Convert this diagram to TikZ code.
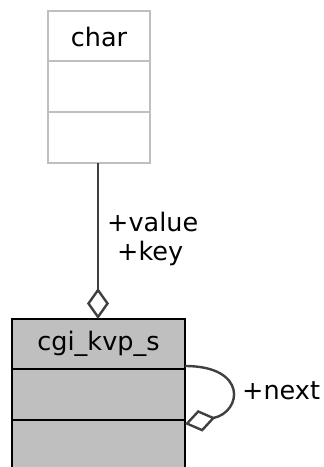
\documentclass[tikz,border=0pt]{standalone}
\usepackage{fontspec}
\setmainfont{DejaVu Sans}
\usetikzlibrary{arrows.meta}
\definecolor{boxgray}{HTML}{BFBFBF}
\definecolor{edgegray}{HTML}{404040}
\tikzset{
  classbox/.style={draw, line width=2.4pt, inner sep=0pt, outer sep=0pt},
  labeltext/.style={font=\fontsize{25.5}{30}\selectfont, inner sep=0pt, text=black},
  assoc/.style={draw=edgegray, line width=2.4pt,
    -{Diamond[open, length=31pt, width=22pt, line width=2.4pt]}},
}
\begin{document}
\begin{tikzpicture}[x=1pt, y=-1pt]
  \useasboundingbox (0,0) rectangle (324,467);
  \clip (0,0) rectangle (324,467);
  % referenced type
  \node[classbox, draw=boxgray, fill=white, minimum width=102pt, minimum height=152pt]
    (char) at (99,87) {};
  \draw[boxgray, line width=2.4pt] (48,61) -- (150,61) (48,112) -- (150,112);
  \node[labeltext] (chartitle) at (99,37) {char};
  % structure
  \node[classbox, draw=black, fill=boxgray, minimum width=173pt, minimum height=160pt]
    (kvp) at (98.5,399) {};
  \draw[black, line width=2.4pt] (12,369) -- (185,369) (12,420) -- (185,420);
  \node[labeltext] (kvptitle) at (98.5,344) {cgi\_kvp\_s};
  % associations
  \draw[assoc] (char.south -| 98,0) -- (98,319);
  \node[labeltext, anchor=west] (lvalue) at (107,222) {+value};
  \node[labeltext, anchor=west] (lkey) at (117,253) {+key};
  \draw[assoc] (185,366) .. controls (248,366) and (242,412) .. (185,424);
  \node[labeltext, anchor=west] (lnext) at (242,391) {+next};
\end{tikzpicture}
\end{document}
